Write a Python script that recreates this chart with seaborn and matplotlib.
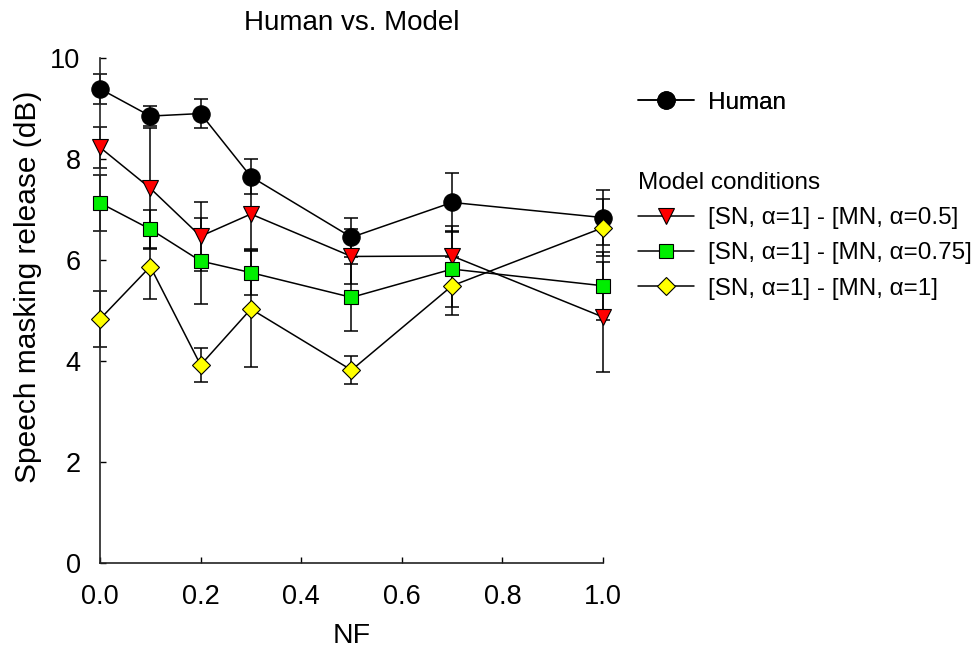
import numpy as np
import pandas as pd
import seaborn as sns
import matplotlib.pyplot as plt
from matplotlib.lines import Line2D

# values
nf = [0.0, 0.1, 0.2, 0.3, 0.5, 0.7, 1.0]

human = [9.39, 8.85, 8.90, 7.65, 6.45, 7.14, 6.84]
human_err = [0.30, 0.20, 0.28, 0.35, 0.39, 0.58, 0.55]

model_05 = [8.23, 7.42, 6.47, 6.91, 6.07, 6.08, 4.87]
model_05_err = [0.40, 1.20, 0.68, 0.70, 0.55, 0.60, 1.09]

model_075 = [7.13, 6.61, 5.98, 5.75, 5.26, 5.82, 5.49]
model_075_err = [0.55, 0.38, 0.86, 0.45, 0.66, 0.75, 0.67]

model_1 = [4.83, 5.87, 3.92, 5.03, 3.82, 5.49, 6.64]
model_1_err = [0.55, 0.64, 0.34, 1.15, 0.27, 0.57, 0.56]

labels = ['Human',
          '[SN, α=1] - [MN, α=0.5]',
          '[SN, α=1] - [MN, α=0.75]',
          '[SN, α=1] - [MN, α=1]']

series = [human, model_05, model_075, model_1]
errors = [human_err, model_05_err, model_075_err, model_1_err]

rows = []
for lab, vals, errs in zip(labels, series, errors):
    for x, v, e in zip(nf, vals, errs):
        rows.append({'NF': x, 'release': v, 'err': e, 'cond': lab})
df = pd.DataFrame(rows)

styles = {
    labels[0]: dict(marker='o', markerfacecolor='black', markersize=12.5),
    labels[1]: dict(marker='v', markerfacecolor='#ff0000', markersize=11),
    labels[2]: dict(marker='s', markerfacecolor='#00ee00', markersize=9.5),
    labels[3]: dict(marker='D', markerfacecolor='#ffff00', markersize=9.5),
}

sns.set_theme(style='ticks')
plt.rcParams['font.family'] = ['Liberation Sans', 'DejaVu Sans']
plt.rcParams['text.color'] = 'black'
plt.rcParams['axes.labelcolor'] = 'black'

fig = plt.figure(figsize=(9.75, 6.52), dpi=100)
ax = fig.add_axes([100 / 975, 89 / 652, 503 / 975, 505 / 652])

for lab in labels:
    d = df[df['cond'] == lab]
    ax.errorbar(d['NF'], d['release'], yerr=d['err'], fmt='none', ecolor='black',
                elinewidth=1.1, capsize=5, capthick=1.1, zorder=2, clip_on=False)

for lab in labels:
    d = df[df['cond'] == lab]
    sns.lineplot(data=d, x='NF', y='release', ax=ax, color='black', linewidth=1.1,
                 markeredgecolor='black', markeredgewidth=0.8, clip_on=False,
                 zorder=3, **styles[lab])

ax.set_xlim(0, 1.0)
ax.set_ylim(0, 10)
ax.set_xticks([0.0, 0.2, 0.4, 0.6, 0.8, 1.0])
ax.set_xticklabels(['0.0', '0.2', '0.4', '0.6', '0.8', '1.0'])
ax.set_yticks([0, 2, 4, 6, 8, 10])
ax.tick_params(direction='in', length=4, width=1, labelsize=19.5, colors='black')
ax.tick_params(axis='x', pad=15)
ax.tick_params(axis='y', pad=14)
for s in ['top', 'right']:
    ax.spines[s].set_visible(False)
for s in ['left', 'bottom']:
    ax.spines[s].set_linewidth(1.2)
    ax.spines[s].set_color('#222222')

ax.set_xlabel('NF', fontsize=20.5, color='black')
ax.set_ylabel('Speech masking release (dB)', fontsize=21.5, color='black')
ax.xaxis.set_label_coords(0.5, -0.118)
ax.yaxis.set_label_coords(-0.115, 0.547)
ax.set_title('Human vs. Model', fontsize=20, pad=20, color='black')

def handle(lab):
    return Line2D([], [], color='black', linewidth=1.1, markeredgecolor='black',
                  markeredgewidth=0.8, **styles[lab])

leg1 = fig.legend([handle(labels[0])], [labels[0]], loc='upper left',
                  bbox_to_anchor=(628 / 975, 1 - 82 / 652), frameon=False,
                  fontsize=17.5, handlelength=2.3, handletextpad=0.6,
                  borderaxespad=0, labelcolor='black')
leg2 = fig.legend([handle(l) for l in labels[1:]], labels[1:], loc='upper left',
                  bbox_to_anchor=(628 / 975, 1 - 162 / 652), frameon=False,
                  fontsize=17.5, handlelength=2.3, handletextpad=0.6,
                  title='Model conditions', title_fontsize=17.5, alignment='left',
                  labelspacing=0.55, borderaxespad=0, labelcolor='black')
leg2.get_title().set_color('black')
fig.add_artist(leg1)

fig.savefig('out.png', dpi=100)
